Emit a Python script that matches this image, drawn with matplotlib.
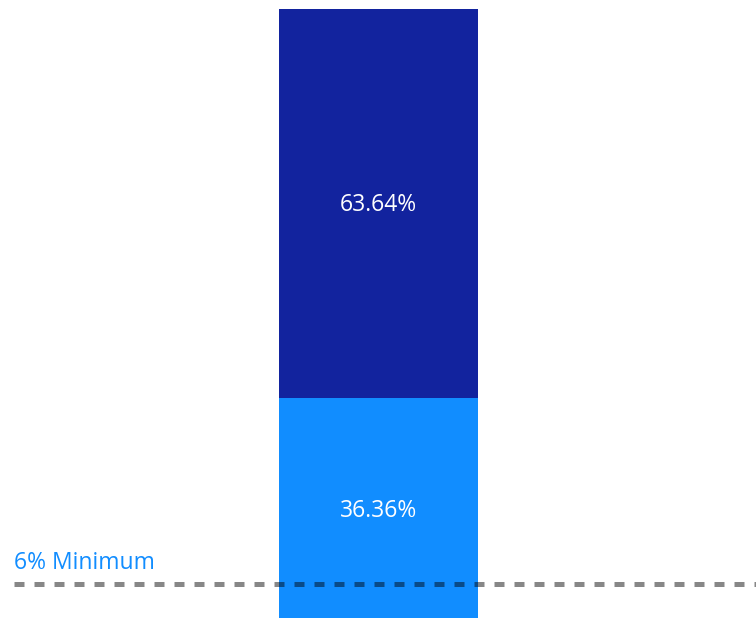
import matplotlib.pyplot as plt

# stacked 100% bar values
segments = ["Lower", "Upper"]
values = [36.36, 63.64]
colors = ["#118DFF", "#12239E"]
minimum = 6
minimum_label = "6% Minimum"

plt.rcParams["font.family"] = ["Open Sans", "DejaVu Sans"]

fig = plt.figure(figsize=(7.56, 6.18), dpi=100)
# bar runs slightly below the bottom edge of the picture
ax = fig.add_axes([0, -2.5 / 618, 1, 620.5 / 618])

bar_w = 199 / 756
center = 378.5 / 756
bottom = 0
for name, val, col in zip(segments, values, colors):
    ax.bar(center, val, width=bar_w, bottom=bottom, color=col, linewidth=0)
    ax.text(center, bottom + val / 2 - 0.3, f"{val:.2f}%", color="white",
            ha="center", va="center", fontsize=16.5)
    bottom += val

ax.set_xlim(0, 1)
ax.set_ylim(0, 100 * 620.5 / 611.5)

ax.axhline(minimum, xmin=14 / 756, xmax=1, color="black", alpha=0.47,
           linewidth=3.6, linestyle=(0, (2, 2)), dash_capstyle="butt")
ax.text(14 / 756, minimum + 2.45, minimum_label, color="#118DFF",
        fontsize=16.5, ha="left", va="baseline")

ax.axis("off")
fig.savefig("out.png", dpi=100)
